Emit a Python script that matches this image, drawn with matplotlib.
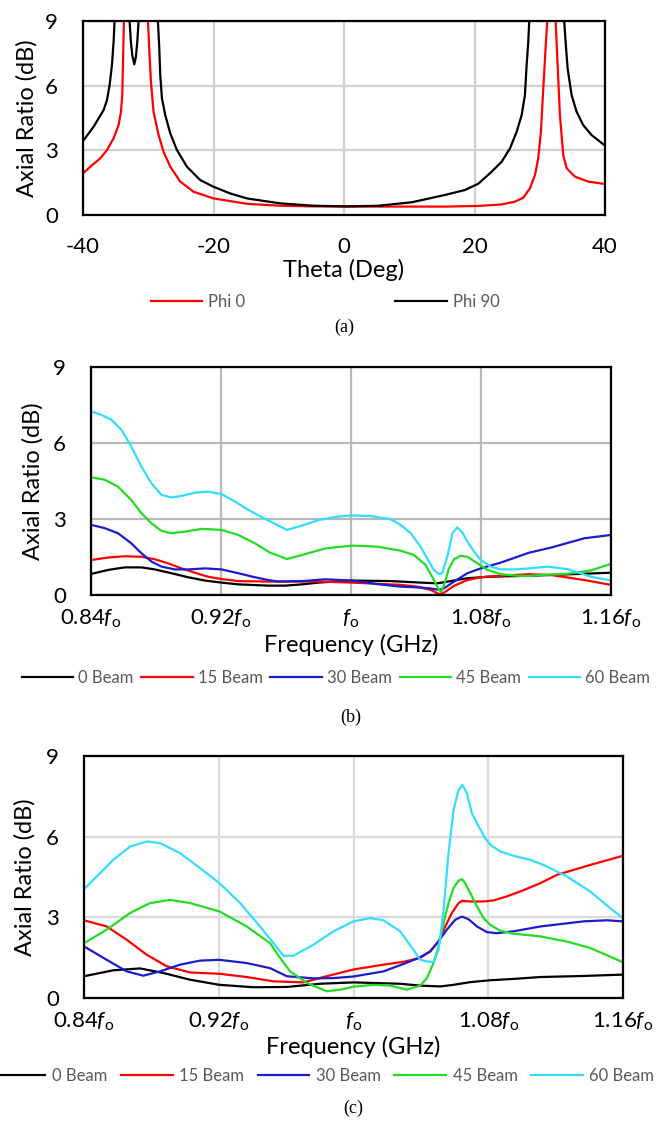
"""
Axial ratio vs. theta (a) and vs. frequency for several beam angles (b, c).
"""

import matplotlib

matplotlib.use("Agg")
import matplotlib.pyplot as plt  # noqa: E402

W, H = 664, 1121

# ---- (a) axial ratio vs theta -------------------------------------------
theta_phi0 = [-40, -38.88, -37.35, -36.33, -35.31, -34.55, -34.18, -33.98, -33.88, -33.73,
              -33.3, -31.9, -30.4, -30.05, -29.85, -29.59, -29.19, -28.42, -27.66, -26.63,
              -25.1, -23.06, -20, -14.89, -9.79, -4.7, 0.43, 10, 15.5, 20.58,
              24.16, 26.2, 27.47, 28.5, 29.27, 29.77, 30.18, 30.54, 30.95, 31.15,
              31.8, 32.43, 32.74, 33.09, 33.6, 34.12, 35.39, 37.43, 40]
ar_phi0 = [1.93, 2.24, 2.63, 3.01, 3.56, 4.17, 4.79, 5.57, 6.96, 9.0,
           11.5, 13.5, 11.5, 9.0, 7.73, 6.18, 4.79, 3.71, 2.94, 2.24,
           1.55, 1.08, 0.77, 0.52, 0.43, 0.40, 0.39, 0.39, 0.39, 0.42,
           0.49, 0.62, 0.80, 1.24, 1.86, 2.63, 3.86, 5.87, 8.04, 9.0,
           11.0, 9.0, 6.96, 4.64, 2.78, 2.17, 1.78, 1.55, 1.44]

theta_phi90 = [-40, -39.39, -38.37, -37.61, -36.84, -36.33, -35.92, -35.56, -35.31, -35.16,
               -34.5, -33.5, -32.86, -32.66, -32.45, -32.14, -31.89, -31.68, -31.48, -30.5,
               -29.5, -28.52, -28.31, -28.16, -27.9, -27.4, -26.63, -25.6, -24.07, -22.04,
               -20, -17.44, -14.89, -9.79, -4.69, 0.43, 5.27, 10.38, 15.48, 18.54,
               20.58, 22.63, 24.16, 25.44, 26.46, 27.23, 27.73, 27.99, 28.24, 28.39,
               30, 32.5, 33.75, 33.96, 34.27, 34.88, 35.65, 36.66, 37.94, 40]
ar_phi90 = [3.43, 3.68, 4.10, 4.48, 4.87, 5.33, 6.03, 6.96, 8.04, 9.0,
            11.5, 11.5, 9.0, 8.04, 7.42, 6.99, 7.34, 8.04, 9.0, 12.5,
            12.5, 9.0, 7.73, 6.49, 5.41, 4.64, 3.79, 3.01, 2.24, 1.62,
            1.31, 1.0, 0.77, 0.54, 0.43, 0.40, 0.43, 0.59, 0.93, 1.16,
            1.45, 2.01, 2.47, 3.09, 3.86, 4.64, 5.57, 6.96, 8.04, 9.0,
            13.0, 13.0, 9.0, 8.04, 6.80, 5.57, 4.79, 4.17, 3.71, 3.22]

# ---- (b) axial ratio vs frequency (normalised to fo) --------------------
b_f0 = [0.84, 0.8505, 0.8608, 0.871, 0.8793, 0.8895, 0.8998, 0.9101, 0.9203, 0.9306,
        0.9491, 0.9596, 0.9699, 0.9802, 1.0007, 1.0244, 1.0428, 1.0531, 1.0613, 1.0716,
        1.0839, 1.1096, 1.123, 1.16]
b_ar0 = [0.83, 0.99, 1.09, 1.09, 1.01, 0.86, 0.70, 0.57, 0.49, 0.42,
         0.37, 0.37, 0.42, 0.49, 0.57, 0.55, 0.49, 0.46, 0.55, 0.66,
         0.72, 0.76, 0.79, 0.88]

b_f15 = [0.84, 0.8505, 0.8608, 0.871, 0.8793, 0.8875, 0.8957, 0.9039, 0.9121, 0.9203,
         0.9306, 0.9491, 0.9596, 0.9802, 1.0007, 1.0203, 1.0305, 1.0408, 1.049, 1.0541,
         1.0572, 1.0634, 1.0716, 1.0798, 1.0922, 1.1096, 1.123, 1.1436, 1.16]
b_ar15 = [1.38, 1.48, 1.53, 1.51, 1.41, 1.25, 1.05, 0.88, 0.72, 0.63,
          0.55, 0.53, 0.53, 0.53, 0.49, 0.43, 0.40, 0.33, 0.20, 0.04,
          0.09, 0.36, 0.59, 0.70, 0.76, 0.82, 0.79, 0.59, 0.40]

b_f30 = [0.84, 0.8484, 0.8566, 0.8648, 0.871, 0.8772, 0.8834, 0.8916, 0.8998, 0.9101,
         0.9203, 0.9306, 0.9409, 0.9491, 0.9555, 0.9699, 0.9843, 1.0007, 1.0161, 1.0305,
         1.0408, 1.049, 1.0541, 1.0572, 1.0634, 1.0716, 1.0798, 1.0922, 1.1096, 1.123,
         1.1436, 1.16]
b_ar30 = [2.77, 2.64, 2.44, 2.04, 1.65, 1.32, 1.12, 1.01, 1.01, 1.05,
          1.01, 0.86, 0.70, 0.59, 0.53, 0.55, 0.62, 0.57, 0.43, 0.33,
          0.30, 0.26, 0.20, 0.26, 0.53, 0.86, 1.05, 1.28, 1.67, 1.87,
          2.24, 2.37]

b_f45 = [0.84, 0.8484, 0.8566, 0.8648, 0.871, 0.8772, 0.8834, 0.8895, 0.8978, 0.908,
         0.9203, 0.9306, 0.9409, 0.95, 0.9606, 0.9699, 0.9843, 1.0007, 1.0161, 1.0305,
         1.0387, 1.0459, 1.051, 1.0541, 1.0556, 1.0576, 1.0603, 1.0634, 1.0675, 1.0716,
         1.0778, 1.0839, 1.0922, 1.1024, 1.1096, 1.1148, 1.1333, 1.1477, 1.16]
b_ar45 = [4.65, 4.55, 4.28, 3.75, 3.23, 2.83, 2.53, 2.44, 2.50, 2.61,
          2.57, 2.37, 2.04, 1.68, 1.42, 1.58, 1.84, 1.95, 1.91, 1.75,
          1.58, 1.19, 0.59, 0.20, 0.13, 0.46, 1.05, 1.41, 1.55, 1.51,
          1.25, 0.99, 0.82, 0.76, 0.75, 0.78, 0.84, 0.97, 1.23]

b_f60 = [0.84, 0.8464, 0.8525, 0.8587, 0.8648, 0.871, 0.8772, 0.8834, 0.8895, 0.8957,
         0.9039, 0.9121, 0.9203, 0.9286, 0.9368, 0.9491, 0.9606, 0.9699, 0.9802, 0.9925,
         1.0007, 1.012, 1.0244, 1.0305, 1.0367, 1.0428, 1.048, 1.051, 1.0541, 1.0562,
         1.0593, 1.0624, 1.0654, 1.0685, 1.0716, 1.0757, 1.0798, 1.086, 1.0922, 1.1004,
         1.1096, 1.121, 1.1333, 1.1477, 1.16]
b_ar60 = [7.25, 7.11, 6.92, 6.52, 5.86, 5.07, 4.41, 3.95, 3.85, 3.91,
          4.04, 4.08, 3.98, 3.69, 3.36, 2.94, 2.57, 2.74, 2.96, 3.10,
          3.14, 3.12, 2.99, 2.77, 2.44, 1.91, 1.32, 0.99, 0.82, 0.88,
          1.52, 2.44, 2.67, 2.46, 2.11, 1.71, 1.38, 1.12, 1.01, 1.01,
          1.05, 1.12, 1.02, 0.72, 0.57]

# ---- (c) axial ratio vs frequency, second configuration -----------------
c_f0 = [0.84, 0.8574, 0.8733, 0.8871, 0.903, 0.9204, 0.9406, 0.9604, 0.9802, 1.0,
        1.0277, 1.0396, 1.0515, 1.0594, 1.0693, 1.0812, 1.095, 1.1109, 1.1366, 1.16]
c_ar0 = [0.81, 1.03, 1.10, 0.93, 0.68, 0.49, 0.40, 0.41, 0.53, 0.58,
         0.53, 0.46, 0.43, 0.49, 0.59, 0.66, 0.71, 0.78, 0.82, 0.87]

c_f15 = [0.84, 0.8535, 0.8653, 0.8772, 0.8891, 0.903, 0.9204, 0.9366, 0.9525, 0.9703,
         0.9841, 1.0, 1.0178, 1.03, 1.0396, 1.0455, 1.0505, 1.0545, 1.0584, 1.0624,
         1.0644, 1.0693, 1.0772, 1.0832, 1.0911, 1.099, 1.1109, 1.1208, 1.1406, 1.16]
c_ar15 = [2.89, 2.66, 2.17, 1.61, 1.18, 0.95, 0.90, 0.78, 0.62, 0.58,
          0.81, 1.06, 1.24, 1.35, 1.49, 1.73, 2.11, 2.66, 3.16, 3.53,
          3.61, 3.59, 3.59, 3.63, 3.78, 3.96, 4.27, 4.58, 4.95, 5.29]

c_f30 = [0.84, 0.8535, 0.8653, 0.8752, 0.8851, 0.897, 0.9089, 0.9204, 0.9366, 0.9505,
         0.9604, 0.9762, 0.9881, 1.0, 1.0178, 1.0336, 1.0396, 1.0455, 1.0505, 1.0554,
         1.0604, 1.0644, 1.0683, 1.0733, 1.0792, 1.0851, 1.095, 1.1109, 1.1366, 1.1505,
         1.16]
c_ar30 = [1.92, 1.42, 0.99, 0.83, 0.99, 1.24, 1.39, 1.42, 1.30, 1.11,
          0.81, 0.73, 0.74, 0.80, 0.99, 1.36, 1.52, 1.73, 2.11, 2.54,
          2.91, 3.03, 2.93, 2.66, 2.45, 2.41, 2.48, 2.66, 2.85, 2.89,
          2.85]

c_f45 = [0.84, 0.8535, 0.8673, 0.8792, 0.8911, 0.903, 0.9204, 0.9366, 0.9505, 0.9564,
         0.9624, 0.9723, 0.9841, 0.9921, 1.0, 1.0119, 1.0218, 1.0317, 1.0396, 1.0436,
         1.0475, 1.0505, 1.0535, 1.0564, 1.0594, 1.0624, 1.0644, 1.0663, 1.0693, 1.0733,
         1.0772, 1.0812, 1.0871, 1.095, 1.1049, 1.1109, 1.1267, 1.1406, 1.16]
c_ar45 = [2.04, 2.54, 3.16, 3.53, 3.65, 3.53, 3.22, 2.66, 2.04, 1.49,
          0.99, 0.56, 0.25, 0.31, 0.42, 0.49, 0.46, 0.31, 0.46, 0.74,
          1.30, 1.92, 2.79, 3.53, 4.09, 4.37, 4.42, 4.27, 3.90, 3.41,
          2.97, 2.72, 2.50, 2.39, 2.33, 2.29, 2.10, 1.86, 1.33]

c_f60 = [0.84, 0.8495, 0.8574, 0.8673, 0.8772, 0.8851, 0.897, 0.9089, 0.9204, 0.9327,
         0.9445, 0.9525, 0.9584, 0.9643, 0.9762, 0.9881, 1.0, 1.0099, 1.0178, 1.0277,
         1.0356, 1.0396, 1.0436, 1.0475, 1.0505, 1.0535, 1.0564, 1.0594, 1.0624, 1.0647,
         1.0673, 1.0703, 1.0743, 1.0782, 1.0812, 1.0871, 1.095, 1.1049, 1.1128, 1.1267,
         1.1406, 1.1524, 1.16]
c_ar60 = [4.05, 4.64, 5.14, 5.63, 5.82, 5.76, 5.39, 4.83, 4.27, 3.53,
          2.66, 2.04, 1.57, 1.57, 1.98, 2.48, 2.85, 2.97, 2.89, 2.48,
          1.79, 1.42, 1.36, 1.34, 1.79, 3.28, 5.39, 6.99, 7.74, 7.92,
          7.62, 6.87, 6.38, 5.94, 5.70, 5.45, 5.29, 5.14, 4.95, 4.52,
          3.96, 3.34, 2.97]

beam_labels = ["0 Beam", "15 Beam", "30 Beam", "45 Beam", "60 Beam"]
beam_colors = ["#000000", "#ff0000", "#1c1ccc", "#22dd22", "#33ddff"]
freq_ticks = [0.84, 0.92, 1.00, 1.08, 1.16]
freq_ticklabels = [r"$\mathit{0.84f}_{\mathrm{o}}$", r"$\mathit{0.92f}_{\mathrm{o}}$",
                   r"$\mathit{f}_{\mathrm{o}}$", r"$\mathit{1.08f}_{\mathrm{o}}$",
                   r"$\mathit{1.16f}_{\mathrm{o}}$"]
ar_ticks = [0, 3, 6, 9]
theta_ticks = [-40, -20, 0, 20, 40]

plt.rcParams.update({
    "font.family": ["Lato", "DejaVu Sans"],
    "mathtext.fontset": "custom",
    "mathtext.rm": "Lato",
    "mathtext.it": "Lato:italic",
    "axes.linewidth": 1.6,
    "axes.unicode_minus": False,
})


def px_rect(left, top, right, bottom):
    return [left / W, 1 - bottom / H, (right - left) / W, (bottom - top) / H]


def style_axes(ax, grid_color, ylab_x, xlab_y, box, xpad=9):
    left, top, right, bottom = box
    ax.set_ylim(0, 9)
    ax.set_yticks(ar_ticks)
    ax.grid(True, color=grid_color, linewidth=1.6)
    ax.set_axisbelow(True)
    ax.tick_params(length=0, labelsize=16, pad=18, axis="y")
    ax.tick_params(length=0, labelsize=16, pad=xpad, axis="x")
    ax.set_ylabel("Axial Ratio (dB)", fontsize=17)
    ax.yaxis.set_label_coords((ylab_x - left) / (right - left), 0.5)
    ax.yaxis.label.set_va("center")
    ax.xaxis.set_label_coords(0.5, (bottom - xlab_y) / (bottom - top))
    ax.xaxis.label.set_va("center")


fig = plt.figure(figsize=(W / 100, H / 100), dpi=100)

# (a)
box_a = (83, 21, 605, 215)
ax_a = fig.add_axes(px_rect(*box_a))
ax_a.plot(theta_phi0, ar_phi0, color="#ff0000", lw=1.6, label="Phi 0")
ax_a.plot(theta_phi90, ar_phi90, color="#000000", lw=1.6, label="Phi 90")
ax_a.set_xlim(-40, 40)
ax_a.set_xticks(theta_ticks)
ax_a.set_xlabel("Theta (Deg)", fontsize=17)
style_axes(ax_a, "#cfcfcf", 27, 270, box_a, xpad=16)
fig.legend(loc="center", bbox_to_anchor=(325 / W, 1 - 302 / H), ncol=2,
           frameon=False, fontsize=12, handlelength=3.1, handletextpad=0.35,
           columnspacing=9.0, labelcolor="#595959")
fig.text(344 / W, 1 - 327 / H, "(a)", ha="center", va="center",
         family="Liberation Serif", fontsize=13)

# (b) and (c)
panels = [
    ((91, 367, 611, 595), [(b_f0, b_ar0), (b_f15, b_ar15), (b_f30, b_ar30),
                           (b_f45, b_ar45), (b_f60, b_ar60)],
     "#b8b8b8", 33, 645, (336, 678), 0.45, 0.3, (351, 717), "(b)"),
    ((84, 756, 623, 998), [(c_f0, c_ar0), (c_f15, c_ar15), (c_f30, c_ar30),
                           (c_f45, c_ar45), (c_f60, c_ar60)],
     "#dadada", 25, 1047, (324, 1076), 0.8, 0.4, (353, 1108), "(c)"),
]
for box, series, gcol, ylx, xly, leg_xy, colsp, txtpad, cap_xy, cap in panels:
    ax = fig.add_axes(px_rect(*box))
    for (f, ar), lab, col in zip(series, beam_labels, beam_colors):
        ax.plot(f, ar, color=col, lw=1.6, label=lab)
    ax.set_xlim(0.84, 1.16)
    ax.set_xticks(freq_ticks)
    ax.set_xticklabels(freq_ticklabels)
    ax.set_xlabel("Frequency (GHz)", fontsize=17)
    style_axes(ax, gcol, ylx, xly, box)
    ax.legend(loc="center", bbox_to_anchor=(leg_xy[0] / W, 1 - leg_xy[1] / H),
              bbox_transform=fig.transFigure, ncol=5, frameon=False, fontsize=12,
              handlelength=3.1, handletextpad=txtpad, columnspacing=colsp,
              labelcolor="#595959")
    fig.text(cap_xy[0] / W, 1 - cap_xy[1] / H, cap, ha="center", va="center",
             family="Liberation Serif", fontsize=13)

fig.savefig("out.png", dpi=100, facecolor="white")
